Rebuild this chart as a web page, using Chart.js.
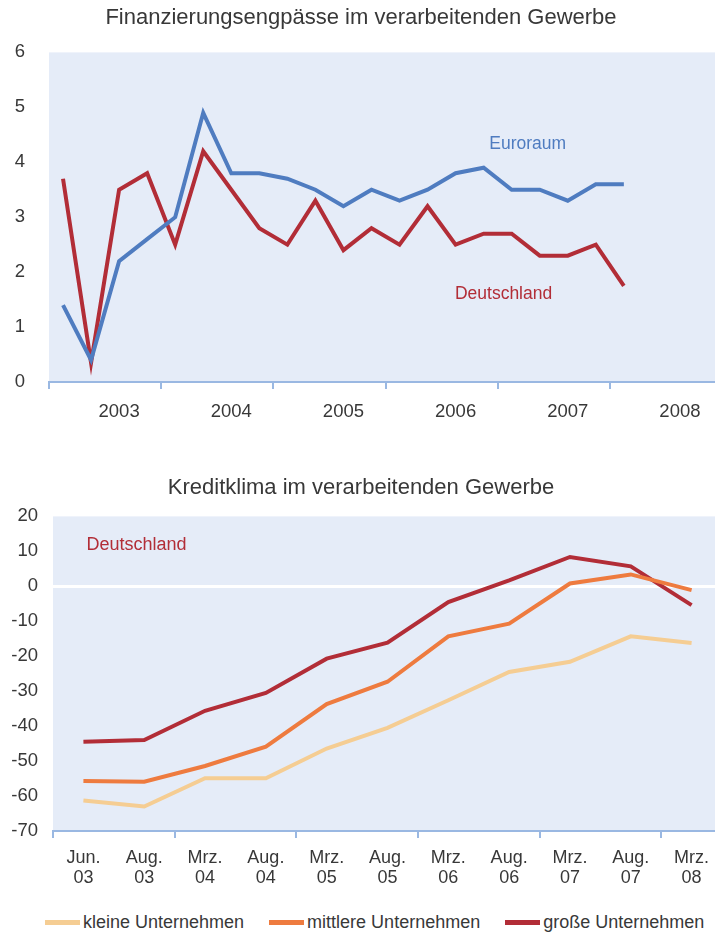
<!DOCTYPE html>
<html>
<head>
<meta charset="utf-8">
<script src="https://cdn.jsdelivr.net/npm/chart.js@4/dist/chart.umd.min.js"></script>
<style>
  html, body { margin: 0; padding: 0; background: #fff; overflow: hidden; }
  body { width: 715px; height: 933px; position: relative; font-family: 'Liberation Sans', Arial, sans-serif; }
  .box { position: absolute; left: 0; width: 722px; }
  #top-box { top: 0; height: 440px; }
  #bottom-box { top: 460px; height: 433px; }
  #klima-legend { position: absolute; left: 45px; top: 910px; display: flex; gap: 25px; font-size: 18px; color: #383838; line-height: 24px; white-space: nowrap; }
  #klima-legend .item { display: flex; align-items: center; }
  #klima-legend .swatch { width: 35px; height: 5px; margin-right: 3px; }
</style>
</head>
<body>
<div class="box" id="top-box"><canvas id="engpass-chart"></canvas></div>
<div class="box" id="bottom-box"><canvas id="klima-chart"></canvas></div>
<div id="klima-legend"></div>
<script>
// Top chart: quarterly values, 2003 Q1 .. 2008 Q4
const quarters = [
    '2003 Q1', '2003 Q2', '2003 Q3', '2003 Q4',
    '2004 Q1', '2004 Q2', '2004 Q3', '2004 Q4',
    '2005 Q1', '2005 Q2', '2005 Q3', '2005 Q4',
    '2006 Q1', '2006 Q2', '2006 Q3', '2006 Q4',
    '2007 Q1', '2007 Q2', '2007 Q3', '2007 Q4',
    '2008 Q1', '2008 Q2', '2008 Q3', '2008 Q4'
];
const yearLabels = ['2003', '2004', '2005', '2006', '2007', '2008'];
const euroraum = [1.4, 0.4, 2.2, 2.6, 3.0, 4.9, 3.8, 3.8, 3.7, 3.5, 3.2, 3.5, 3.3, 3.5, 3.8, 3.9, 3.5, 3.5, 3.3, 3.6, 3.6];
const deutschlandEng = [3.7, 0.35, 3.5, 3.8, 2.5, 4.2, 3.5, 2.8, 2.5, 3.3, 2.4, 2.8, 2.5, 3.2, 2.5, 2.7, 2.7, 2.3, 2.3, 2.5, 1.75];

// Bottom chart: survey dates
const surveyDates = [
    ['Jun.', '03'], ['Aug.', '03'], ['Mrz.', '04'], ['Aug.', '04'], ['Mrz.', '05'], ['Aug.', '05'],
    ['Mrz.', '06'], ['Aug.', '06'], ['Mrz.', '07'], ['Aug.', '07'], ['Mrz.', '08']
];
const kleine = [-61.3, -63.0, -54.9, -54.9, -46.4, -40.5, -32.6, -24.5, -21.6, -14.3, -16.2];
const mittlere = [-55.7, -55.9, -51.4, -45.9, -33.7, -27.3, -14.3, -10.7, 0.8, 3.4, -1.1];
const grosse = [-44.5, -44.0, -35.6, -30.5, -20.7, -16.1, -4.5, 1.7, 8.4, 5.7, -5.4];

const FONT = "'Liberation Sans', Arial, sans-serif";
const TEXT_COLOR = '#383838';
const PLOT_BG = '#E5ECF8';
const AXIS_COLOR = '#9AB8E2';
const BLUE = '#4F7CC0';
const RED = '#B22D37';
const ORANGE = '#EE7B3F';
const LIGHT = '#F5CD93';

// Fill the plot area with the light blue background
const plotBackground = {
    id: 'plotBackground',
    beforeDraw(chart) {
        const { ctx, chartArea } = chart;
        ctx.save();
        ctx.fillStyle = PLOT_BG;
        ctx.fillRect(chartArea.left, chartArea.top, chartArea.right - chartArea.left, chartArea.bottom - chartArea.top);
        ctx.restore();
    }
};

// Text labels placed through the scales
const seriesLabels = {
    id: 'seriesLabels',
    afterDatasetsDraw(chart, args, opts) {
        const { ctx, scales } = chart;
        ctx.save();
        ctx.font = opts.font;
        ctx.textBaseline = 'middle';
        opts.items.forEach(item => {
            ctx.fillStyle = item.color;
            ctx.textAlign = item.align || 'center';
            const x = scales.x.getPixelForValue(item.x);
            const y = scales.y.getPixelForValue(item.y);
            ctx.fillText(item.text, x, y);
        });
        ctx.restore();
    }
};

Chart.defaults.font.family = FONT;
Chart.defaults.color = TEXT_COLOR;

function initEngpassChart() {
    const ctx = document.getElementById('engpass-chart').getContext('2d');
    new Chart(ctx, {
        type: 'line',
        data: {
            labels: quarters,
            datasets: [
                { label: 'Euroraum', data: euroraum, borderColor: BLUE, borderWidth: 4, pointRadius: 0, tension: 0 },
                { label: 'Deutschland', data: deutschlandEng, borderColor: RED, borderWidth: 4, pointRadius: 0, tension: 0 }
            ]
        },
        options: {
            responsive: true,
            maintainAspectRatio: false,
            animation: false,
            layout: { padding: 0 },
            plugins: {
                legend: { display: false },
                tooltip: { enabled: false },
                title: {
                    display: true,
                    text: 'Finanzierungsengpässe im verarbeitenden Gewerbe',
                    color: TEXT_COLOR,
                    font: { size: 22, weight: 'normal' },
                    padding: { top: 5, bottom: 21 }
                },
                seriesLabels: {
                    font: '17.5px ' + FONT,
                    items: [
                        { text: 'Euroraum', x: 16.57, y: 4.33, color: BLUE },
                        { text: 'Deutschland', x: 15.71, y: 1.6, color: RED }
                    ]
                }
            },
            scales: {
                x: {
                    offset: true,
                    afterFit: s => { s.height = 58; },
                    grid: {
                        offset: true,
                        drawOnChartArea: false,
                        tickLength: 7,
                        lineWidth: 2,
                        tickColor: c => (c.index !== undefined && c.index % 4 === 0) ? AXIS_COLOR : 'transparent'
                    },
                    border: { color: AXIS_COLOR, width: 2 },
                    ticks: {
                        autoSkip: false,
                        maxRotation: 0,
                        padding: 12,
                        font: { size: 18.5 },
                        callback: (v, i) => i % 4 === 2 ? yearLabels[Math.floor(i / 4)] : ''
                    }
                },
                y: {
                    min: 0,
                    max: 6,
                    afterFit: s => { s.width = 49; },
                    grid: { display: false },
                    border: { display: false },
                    ticks: { stepSize: 1, padding: 16, font: { size: 18.5 } }
                }
            }
        },
        plugins: [plotBackground, seriesLabels]
    });
}

function initKlimaChart() {
    const ctx = document.getElementById('klima-chart').getContext('2d');
    const chart = new Chart(ctx, {
        type: 'line',
        data: {
            labels: surveyDates,
            datasets: [
                { label: 'kleine Unternehmen', data: kleine, borderColor: LIGHT, backgroundColor: LIGHT, borderWidth: 4, pointRadius: 0, tension: 0 },
                { label: 'mittlere Unternehmen', data: mittlere, borderColor: ORANGE, backgroundColor: ORANGE, borderWidth: 4, pointRadius: 0, tension: 0 },
                { label: 'große Unternehmen', data: grosse, borderColor: RED, backgroundColor: RED, borderWidth: 4, pointRadius: 0, tension: 0 }
            ]
        },
        options: {
            responsive: true,
            maintainAspectRatio: false,
            animation: false,
            layout: { padding: 0 },
            plugins: {
                legend: { display: false },
                tooltip: { enabled: false },
                title: {
                    display: true,
                    text: 'Kreditklima im verarbeitenden Gewerbe',
                    color: TEXT_COLOR,
                    font: { size: 22, weight: 'normal' },
                    padding: { top: 15, bottom: 15 }
                },
                seriesLabels: {
                    font: '18px ' + FONT,
                    items: [
                        { text: 'Deutschland', x: 0.05, y: 11.7, color: RED, align: 'left' }
                    ]
                }
            },
            scales: {
                x: {
                    offset: true,
                    afterFit: s => { s.height = 62; },
                    grid: {
                        offset: true,
                        drawOnChartArea: false,
                        tickLength: 7,
                        lineWidth: 2,
                        tickColor: c => (c.index !== undefined && c.index % 2 === 0) ? AXIS_COLOR : 'transparent'
                    },
                    border: { color: AXIS_COLOR, width: 2 },
                    ticks: {
                        autoSkip: false,
                        maxRotation: 0,
                        padding: 10,
                        font: { size: 18, lineHeight: 1.1 }
                    }
                },
                y: {
                    min: -70,
                    max: 20,
                    afterFit: s => { s.width = 53; },
                    grid: {
                        drawTicks: false,
                        lineWidth: 3,
                        color: c => c.tick && c.tick.value === 0 ? '#ffffff' : 'transparent'
                    },
                    border: { display: false },
                    ticks: { stepSize: 10, padding: 15, font: { size: 18.5 } }
                }
            }
        },
        plugins: [plotBackground, seriesLabels]
    });
    buildLegend(chart);
}

// Simple HTML legend from the chart datasets
function buildLegend(chart) {
    const el = document.getElementById('klima-legend');
    chart.data.datasets.forEach(ds => {
        const item = document.createElement('div');
        item.className = 'item';
        const sw = document.createElement('span');
        sw.className = 'swatch';
        sw.style.background = ds.borderColor;
        const txt = document.createElement('span');
        txt.textContent = ds.label;
        item.appendChild(sw);
        item.appendChild(txt);
        el.appendChild(item);
    });
}

initEngpassChart();
initKlimaChart();
</script>
</body>
</html>
